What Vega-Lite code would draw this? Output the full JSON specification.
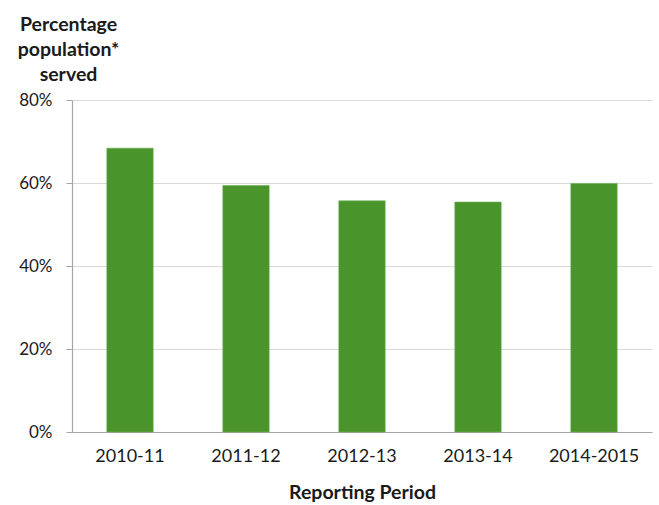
{
  "$schema": "https://vega.github.io/schema/vega-lite/v6.json",
  "width": 580,
  "height": 332,
  "autosize": {"type": "none"},
  "padding": {"left": 72, "top": 100, "right": 7, "bottom": 73},
  "background": "white",
  "data": {"values": [
    {"period": "2010-11", "pct": 0.684},
    {"period": "2011-12", "pct": 0.594},
    {"period": "2012-13", "pct": 0.557},
    {"period": "2013-14", "pct": 0.554},
    {"period": "2014-2015", "pct": 0.599}
  ]},
  "config": {
    "view": {"stroke": null},
    "font": "Lato",
    "axis": {"labelFont": "Lato", "titleFont": "Lato", "labelColor": "#1a1a1a", "titleColor": "#1a1a1a"}
  },
  "mark": {"type": "bar", "color": "#4a942c", "stroke": "#6fae55", "strokeWidth": 0.6},
  "encoding": {
    "x": {
      "field": "period", "type": "nominal", "sort": null,
      "scale": {"paddingInner": 0.6, "paddingOuter": 0.3},
      "axis": {
        "title": "Reporting Period", "titleFontSize": 19.5, "titleFontWeight": "bold",
        "titlePadding": 18, "labelAngle": 0, "labelFontSize": 18, "labelPadding": 15,
        "ticks": false, "domainColor": "#a6a6a6", "domainWidth": 1.2
      }
    },
    "y": {
      "field": "pct", "type": "quantitative",
      "scale": {"domain": [0, 0.8]},
      "axis": {
        "title": ["Percentage", "population*", "served"],
        "titleAngle": 0, "titleAlign": "center", "titleBaseline": "alphabetic",
        "titleX": -4, "titleY": -70, "titleLineHeight": 25,
        "titleFontSize": 19.5, "titleFontWeight": "bold",
        "format": ".0%", "values": [0, 0.2, 0.4, 0.6, 0.8],
        "labelFontSize": 17, "labelPadding": 14, "tickSize": 6,
        "tickColor": "#a6a6a6", "domainColor": "#a6a6a6", "domainWidth": 1.2,
        "gridColor": "#d9d9d9", "gridWidth": 1.2
      }
    }
  }
}
